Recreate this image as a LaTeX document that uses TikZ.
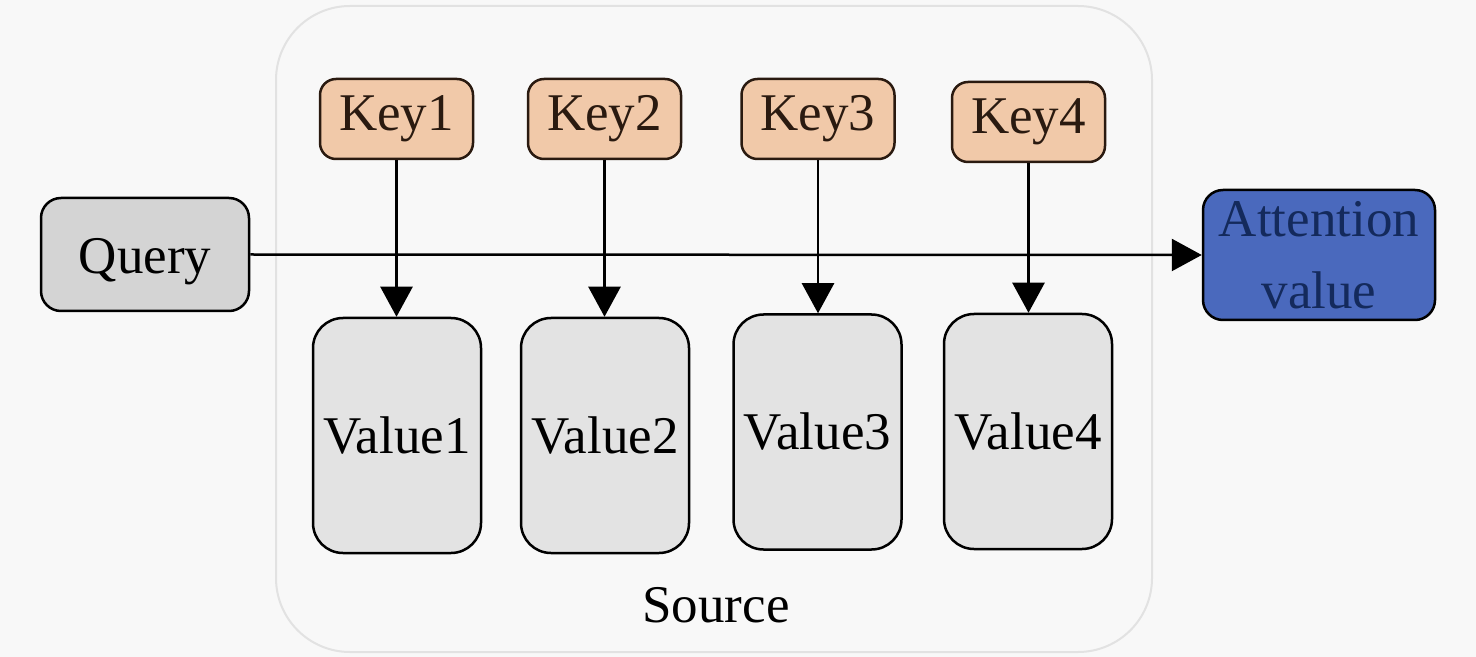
\documentclass[tikz,border=0pt]{standalone}
\usepackage{fontspec}
\setmainfont{Liberation Serif}
\usetikzlibrary{arrows.meta}
\definecolor{bgc}{HTML}{F8F8F8}
\definecolor{srcline}{HTML}{E2E2E2}
\definecolor{qfill}{HTML}{D4D4D4}
\definecolor{kfill}{HTML}{F1C9A9}
\definecolor{kdraw}{HTML}{2A1A10}
\definecolor{vfill}{HTML}{E3E3E3}
\definecolor{afill}{HTML}{4A69BD}
\definecolor{atext}{HTML}{142A5C}
\tikzset{
  box/.style={draw=black, line width=1.25pt, inner sep=0pt, font=\fontsize{26.5}{29}\selectfont, align=center},
  qbox/.style={box, fill=qfill, rounded corners=10pt, minimum width=104pt, minimum height=56.5pt},
  kbox/.style={box, draw=kdraw, fill=kfill, text=kdraw, rounded corners=8pt, minimum width=76.5pt, minimum height=40pt},
  vbox/.style={box, fill=vfill, rounded corners=15pt, minimum width=84pt, minimum height=117.5pt},
  abox/.style={box, fill=afill, text=atext, rounded corners=10pt, minimum width=116pt, minimum height=65pt},
  conn/.style={line width=1.25pt, -{Triangle[width=16pt,length=15pt]}},
}
\begin{document}
\begin{tikzpicture}[x=0.5pt,y=-0.5pt]
\fill[bgc] (0,0) rectangle (1476,657);
\useasboundingbox (0,0) rectangle (1476,657);
\draw[srcline, line width=1pt, rounded corners=37pt] (276,6) rectangle (1152,652);
\node[font=\fontsize{26.5}{29}\selectfont] (src) at (716,605) {Source};
\node[qbox, text depth=0pt] (q) at (145,254.5) {\raisebox{-1pt}{Query}};
\node[abox] (att) at (1319,255) {\raisebox{1pt}{Attention}\\[6pt]value};
\node[kbox] (k1) at (396.5,119) {\raisebox{-1pt}{Key1}};
\node[kbox] (k2) at (604.5,119) {\raisebox{-1pt}{Key2}};
\node[kbox] (k3) at (818,119) {\raisebox{-1pt}{Key3}};
\node[kbox] (k4) at (1028.5,122) {\raisebox{-1pt}{Key4}};
\node[vbox] (v1) at (397,435.5) {Value1};
\node[vbox] (v2) at (605,435.5) {Value2};
\node[vbox] (v3) at (817.5,432) {Value3};
\node[vbox] (v4) at (1028,431.5) {Value4};
\draw[conn] (q.east) -- (att.west);
\foreach \i in {1,2,3,4}{
  \draw[conn] (k\i.south) -- (k\i.south |- v\i.north);
}
\end{tikzpicture}
\end{document}
